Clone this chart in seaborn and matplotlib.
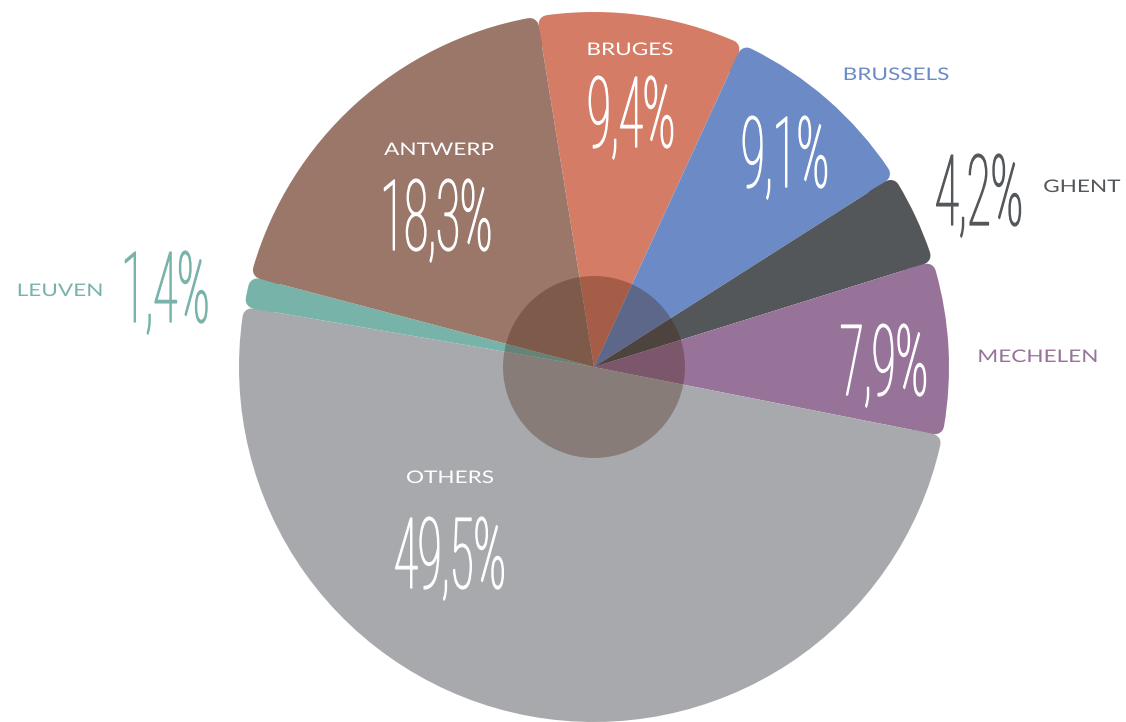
import math

import matplotlib
matplotlib.use("Agg")
import matplotlib.pyplot as plt
import matplotlib.patheffects as pe
from matplotlib.patches import Wedge, Circle
from matplotlib.transforms import Affine2D
import seaborn as sns

# ---- data -------------------------------------------------------------
cities = ["Bruges", "Brussels", "Ghent", "Mechelen", "Others", "Leuven", "Antwerp"]
shares = [9.4, 9.1, 4.2, 7.9, 49.5, 1.4, 18.3]
share_text = ["9,4%", "9,1%", "4,2%", "7,9%", "49,5%", "1,4%", "18,3%"]
city_colors = ["#d57c66", "#6b8ac6", "#54575a", "#977399",
               "#a8a9ac", "#78b3aa", "#9a7769"]

# ---- layout (pixel units, y measured from the top) ---------------------
W, H, DPI = 1126, 722, 100
CX, CY = 594, 367          # pie centre
RADIUS = 355               # outer radius
CORNER = 9                 # rounding of the outer corners
HUB = 91                   # radius of the translucent hub

# name label: (x centre, baseline y, colour)
name_pos = {
    "Bruges":   (630, 55, "white"),
    "Brussels": (896, 80, "#6b8ac6"),
    "Ghent":    (1082, 192, "#54575a"),
    "Mechelen": (1038, 362, "#977399"),
    "Others":   (450, 483, "white"),
    "Leuven":   (60, 296, "#78b3aa"),
    "Antwerp":  (439, 155, "white"),
}
# percentage label: (x centre, baseline y, colour)
pct_pos = {
    "Bruges":   (631, 147, "white"),
    "Brussels": (785, 187, "white"),
    "Ghent":    (979, 225, "#54575a"),
    "Mechelen": (884, 395, "white"),
    "Others":   (450, 588, "white"),
    "Leuven":   (165, 322, "#78b3aa"),
    "Antwerp":  (436, 250, "white"),
}


class GlyphScale(pe.AbstractPathEffect):
    """Scale glyph outlines (horizontally about their centre, vertically
    about the baseline), optionally thickening them with an outline."""

    def __init__(self, sx=1.0, sy=1.0, stroke=0.0):
        super().__init__()
        self.sx = sx
        self.sy = sy
        self.stroke = stroke

    def draw_path(self, renderer, gc, tpath, affine, rgbFace=None):
        ext = tpath.get_extents()
        cx = 0.5 * (ext.x0 + ext.x1)
        scale = (Affine2D().translate(-cx, 0)
                 .scale(self.sx, self.sy).translate(cx, 0))
        if self.stroke > 0:
            gc0 = renderer.new_gc()
            gc0.copy_properties(gc)
            gc0.set_linewidth(self.stroke)
            gc0.set_foreground(rgbFace)
            gc0.set_joinstyle("round")
            renderer.draw_path(gc0, tpath, scale + affine, rgbFace)
            gc0.restore()
        else:
            renderer.draw_path(gc, tpath, scale + affine, rgbFace)


sns.set_theme(style="white")
plt.rcParams["font.family"] = ["Lato", "DejaVu Sans"]
palette = sns.color_palette(city_colors)

fig = plt.figure(figsize=(W / DPI, H / DPI), dpi=DPI)
ax = fig.add_axes([0, 0, 1, 1])

center = (CX, H - CY)
inner = RADIUS - CORNER
# Bruges starts just left of 12 o'clock and the slices run clockwise
wedges, _ = ax.pie(shares, colors=palette, radius=inner,
                   center=center, startangle=99.2, counterclock=False,
                   wedgeprops=dict(linewidth=0))

ax.set_aspect("auto")
ax.set_xlim(0, W)
ax.set_ylim(0, H)
ax.axis("off")

# outer rim of every slice with rounded corners: a slightly narrower ring
# sector, outlined in its own colour with round joins
delta = math.degrees(math.asin(CORNER / inner))
lw_pt = 2 * CORNER * 72 / DPI
for w, col in zip(wedges, palette):
    ax.add_patch(Wedge(center, inner, w.theta1 + delta, w.theta2 - delta,
                       width=2 * CORNER, facecolor=col, edgecolor=col,
                       linewidth=lw_pt, joinstyle="round", zorder=2))

# translucent hub
ax.add_patch(Circle(center, HUB, facecolor="#401a06", alpha=0.31,
                    linewidth=0, zorder=5))

# labels
for city, txt in zip(cities, share_text):
    x, y, c = pct_pos[city]
    ax.text(x, H - y, txt, ha="center", va="baseline", color=c,
            fontsize=46, family=["Roboto", "DejaVu Sans"], fontweight="light",
            path_effects=[GlyphScale(0.68, 1.54, stroke=0.9)], zorder=6)
    x, y, c = name_pos[city]
    ax.text(x, H - y, city.upper(), ha="center", va="baseline", color=c,
            fontsize=12.5, family=["Lato", "DejaVu Sans"],
            path_effects=[GlyphScale(1.3, 1.0)], zorder=6)

fig.savefig("out.png", dpi=DPI, facecolor="white")
